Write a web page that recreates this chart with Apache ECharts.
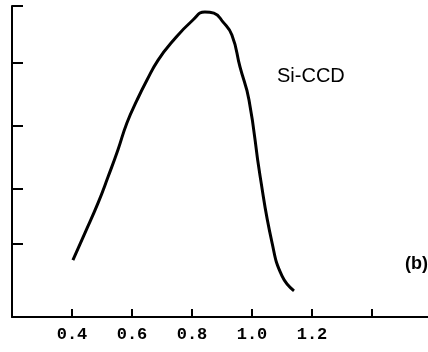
<!DOCTYPE html>
<html>
<head>
<meta charset="utf-8">
<script src="https://cdn.jsdelivr.net/npm/echarts@6/dist/echarts.min.js"></script>
<style>
  html, body { margin: 0; padding: 0; background: #fff; }
  #chart { width: 428px; height: 352px; }
</style>
</head>
<body>
<div id="chart"></div>
<script>
// wavelength (um) and relative response
const wavelength = [0.403, 0.443, 0.487, 0.520, 0.553, 0.583, 0.617, 0.650, 0.687, 0.733,
  0.803, 0.843, 0.873, 0.903, 0.933, 0.960, 0.990, 1.027, 1.067, 1.100, 1.140];
const response = [18.3, 27.0, 36.7, 45.0, 53.7, 62.4, 69.8, 76.2, 82.6, 88.4,
  95.5, 98.1, 97.7, 94.9, 90.7, 80.4, 69.8, 45.3, 23.8, 13.2, 8.4];
const xTicks = [0.4, 0.6, 0.8, 1.0, 1.2, 1.4];
const xLabels = [0.4, 0.6, 0.8, 1.0, 1.2];
const yTicks = [23.5, 41.2, 61.4, 81.7, 100];

const ink = '#000';
const myChart = echarts.init(document.getElementById('chart'));
myChart.setOption({
  animation: false,
  grid: { left: 12, right: 0, top: 6, bottom: 35 },
  xAxis: {
    type: 'value',
    min: 0.2,
    max: 1.5867,
    axisLine: { lineStyle: { color: ink, width: 2 } },
    axisTick: { inside: true, length: 8, customValues: xTicks, lineStyle: { color: ink, width: 2 } },
    axisLabel: {
      customValues: xLabels,
      formatter: v => v.toFixed(1),
      color: ink,
      fontFamily: 'Liberation Mono',
      fontWeight: 'bold',
      fontSize: 17,
      margin: 9
    },
    splitLine: { show: false }
  },
  yAxis: {
    type: 'value',
    min: 0,
    max: 100,
    axisLine: { show: true, lineStyle: { color: ink, width: 2 } },
    axisTick: { show: true, inside: true, length: 11, customValues: yTicks, lineStyle: { color: ink, width: 2 } },
    axisLabel: { show: false },
    splitLine: { show: false }
  },
  series: [{
    type: 'line',
    data: wavelength.map((w, i) => [w, response[i]]),
    smooth: 0.5,
    symbol: 'none',
    lineStyle: { color: ink, width: 3 }
  }],
  graphic: [
    {
      type: 'text', left: 277, top: 66,
      style: { text: 'Si-CCD', fill: ink, font: '20px "Liberation Sans"' }
    },
    {
      type: 'text', left: 405, top: 255,
      style: { text: '(b)', fill: ink, font: 'bold 18px "Liberation Sans"' }
    }
  ]
});
window.addEventListener('resize', () => myChart.resize());
</script>
</body>
</html>
